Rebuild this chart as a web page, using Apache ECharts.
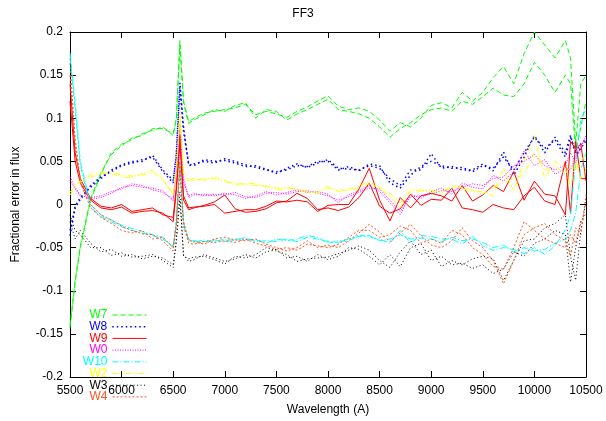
<!DOCTYPE html>
<html><head><meta charset="utf-8">
<script src="https://cdn.jsdelivr.net/npm/echarts@6/dist/echarts.min.js"></script>
<style>html,body{margin:0;padding:0;background:#fff}#c{width:606px;height:421px}</style>
</head><body><div id="c"></div>
<script>
const wl = [5500,5550,5600,5700,5800,5900,6000,6100,6200,6300,6400,6500,6530,6565,6600,6650,
 6700,6800,6900,7000,7100,7200,7300,7400,7500,
 7600,7700,7800,7900,8000,8100,8200,8300,8400,
 8500,8600,8700,8800,8900,9000,9100,9200,9300,
 9400,9500,9600,9700,9800,9900,10000,10100,10200,10300,
 10350,10400,10450,10500];

const W7a = [-0.143,-0.09,-0.05,0.005,0.035,0.06,0.07,0.075,0.082,0.086,0.09,0.08,0.1,0.19,0.12,0.096,
 0.1,0.106,0.108,0.11,0.112,0.116,0.104,0.108,0.105,
 0.101,0.108,0.113,0.12,0.126,0.114,0.11,0.112,0.108,
 0.098,0.085,0.095,0.09,0.1,0.115,0.118,0.112,0.13,
 0.12,0.13,0.147,0.16,0.14,0.175,0.2,0.185,0.17,0.19,
 0.17,0.07,0.14,0.15];
const W7b = [-0.14,-0.088,-0.048,0.007,0.037,0.058,0.068,0.077,0.08,0.088,0.088,0.082,0.098,0.185,0.118,0.094,
 0.098,0.104,0.11,0.108,0.115,0.118,0.1,0.11,0.108,
 0.098,0.105,0.11,0.116,0.122,0.11,0.108,0.105,0.1,
 0.09,0.078,0.088,0.095,0.104,0.11,0.112,0.108,0.12,
 0.116,0.125,0.135,0.127,0.125,0.14,0.165,0.15,0.13,0.15,
 0.14,0.06,0.09,0.12];
const W8a = [-0.036,-0.004,0.006,0.022,0.032,0.038,0.045,0.048,0.052,0.055,0.038,0.025,0.06,0.141,0.09,0.045,
 0.047,0.05,0.048,0.053,0.05,0.046,0.043,0.04,0.038,
 0.04,0.045,0.044,0.05,0.05,0.04,0.044,0.039,0.047,
 0.045,0.025,0.019,0.034,0.044,0.05,0.045,0.042,0.043,
 0.038,0.045,0.042,0.055,0.04,0.06,0.078,0.065,0.075,0.055,
 0.078,0.062,0.07,0.076];
const W8b = [-0.03,-0.002,0.008,0.02,0.03,0.04,0.046,0.05,0.05,0.057,0.04,0.028,0.055,0.135,0.085,0.047,
 0.045,0.052,0.05,0.051,0.048,0.044,0.045,0.041,0.036,
 0.042,0.047,0.043,0.048,0.052,0.042,0.041,0.04,0.045,
 0.042,0.03,0.022,0.04,0.04,0.059,0.042,0.044,0.04,
 0.04,0.047,0.039,0.061,0.034,0.055,0.08,0.06,0.078,0.06,
 0.08,0.058,0.065,0.074];
const W9a = [0.14,0.06,0.03,0.007,-0.002,-0.004,0.0,-0.008,-0.006,-0.004,-0.012,-0.015,0.02,0.08,0.01,-0.004,
 -0.003,-0.002,0.0,-0.01,-0.008,-0.006,-0.006,-0.002,0.004,
 0.003,0.005,0.003,-0.008,-0.001,0.0,0.0,0.018,0.042,
 0.005,-0.019,0.008,-0.004,0.01,0.013,0.01,0.004,0.022,
 0.004,0.011,0.022,0.015,0.038,0.005,0.027,0.012,0.01,-0.012,
 0.073,0.065,0.07,0.027];
const W9b = [0.12,0.05,0.025,0.005,-0.004,-0.006,-0.003,-0.01,-0.008,-0.007,-0.01,-0.02,0.015,0.07,0.005,-0.006,
 -0.004,-0.001,0.003,0.011,-0.005,-0.009,-0.008,-0.005,0.002,
 0.004,0.013,0.007,-0.006,-0.004,-0.007,-0.003,0.008,0.025,
 -0.002,-0.01,-0.005,0.012,-0.001,0.006,0.005,0.019,-0.004,
 -0.006,-0.009,0.0,-0.004,-0.006,0.01,0.02,0.004,0.0,0.05,
 -0.01,0.073,0.03,0.03];
const W0a = [0.032,0.02,0.011,0.006,0.008,0.013,0.02,0.022,0.02,0.019,0.016,0.004,0.04,0.095,0.03,0.008,
 0.011,0.012,0.01,0.013,0.011,0.007,0.01,0.015,0.011,
 0.014,0.017,0.014,0.015,0.012,0.002,0.011,0.016,0.022,
 0.015,0.002,-0.012,0.012,0.007,0.015,0.019,0.012,0.025,
 0.02,0.018,0.034,0.027,0.038,0.062,0.045,0.052,0.035,0.042,
 0.04,0.055,0.065,0.08];
const W0b = [0.028,0.018,0.01,0.008,0.01,0.015,0.018,0.024,0.022,0.017,0.014,0.006,0.035,0.088,0.025,0.01,
 0.013,0.01,0.012,0.011,0.014,0.009,0.008,0.013,0.014,
 0.012,0.015,0.016,0.013,0.01,0.005,0.009,0.014,0.019,
 0.018,0.005,-0.008,0.009,0.01,0.012,0.016,0.015,0.02,
 0.024,0.022,0.03,0.032,0.045,0.05,0.058,0.045,0.04,0.046,
 0.06,0.048,0.07,0.075];
const W10a = [0.176,0.118,0.05,0.0,-0.012,-0.018,-0.024,-0.028,-0.031,-0.035,-0.038,-0.05,-0.02,0.05,-0.02,-0.042,
 -0.042,-0.043,-0.041,-0.043,-0.04,-0.04,-0.041,-0.045,-0.04,
 -0.042,-0.04,-0.036,-0.038,-0.045,-0.042,-0.043,-0.035,-0.038,
 -0.04,-0.045,-0.03,-0.045,-0.036,-0.037,-0.04,-0.04,-0.046,
 -0.037,-0.048,-0.053,-0.05,-0.052,-0.057,-0.05,-0.058,-0.048,-0.03,
 -0.012,0.05,0.1,0.11];
const W10b = [0.17,0.11,0.045,-0.003,-0.014,-0.02,-0.026,-0.03,-0.033,-0.036,-0.04,-0.048,-0.022,0.045,-0.025,-0.04,
 -0.044,-0.041,-0.043,-0.04,-0.042,-0.038,-0.043,-0.042,-0.043,
 -0.04,-0.043,-0.038,-0.04,-0.043,-0.044,-0.04,-0.037,-0.036,
 -0.042,-0.04,-0.035,-0.04,-0.039,-0.04,-0.043,-0.038,-0.042,
 -0.04,-0.044,-0.05,-0.047,-0.055,-0.05,-0.054,-0.052,-0.045,-0.04,
 -0.03,-0.01,0.04,0.06];
const W2a = [0.011,0.02,0.028,0.034,0.037,0.036,0.032,0.031,0.036,0.04,0.03,0.011,0.04,0.105,0.04,0.027,
 0.028,0.03,0.03,0.028,0.023,0.025,0.024,0.02,0.019,
 0.02,0.017,0.013,0.015,0.021,0.015,0.018,0.021,0.027,
 0.018,0.01,-0.004,0.018,0.015,0.017,0.013,0.022,0.018,
 0.015,0.015,0.01,0.042,0.015,0.05,0.08,0.03,0.05,0.042,
 0.02,0.052,0.03,0.042];
const W2b = [0.014,0.022,0.026,0.032,0.035,0.038,0.034,0.033,0.034,0.038,0.028,0.013,0.035,0.1,0.035,0.029,
 0.03,0.028,0.032,0.026,0.025,0.023,0.022,0.022,0.017,
 0.018,0.019,0.015,0.013,0.019,0.017,0.016,0.019,0.024,
 0.02,0.013,0.002,0.015,0.017,0.014,0.016,0.019,0.02,
 0.017,0.012,0.02,0.025,0.03,0.035,0.06,0.04,0.045,0.035,
 0.045,0.04,0.05,0.06];
const W3a = [-0.012,-0.03,-0.035,-0.05,-0.05,-0.059,-0.056,-0.061,-0.06,-0.058,-0.065,-0.073,-0.04,0.015,-0.06,-0.063,
 -0.061,-0.06,-0.064,-0.069,-0.06,-0.062,-0.058,-0.05,-0.054,
 -0.058,-0.066,-0.063,-0.062,-0.061,-0.057,-0.053,-0.048,-0.053,
 -0.065,-0.073,-0.055,-0.042,-0.058,-0.053,-0.072,-0.065,-0.07,
 -0.063,-0.06,-0.063,-0.088,-0.065,-0.042,-0.04,-0.027,-0.022,-0.012,
 -0.06,-0.088,-0.03,0.004];
const W3b = [-0.02,-0.04,-0.03,-0.045,-0.055,-0.052,-0.06,-0.058,-0.063,-0.06,-0.062,-0.07,-0.045,0.005,-0.058,-0.066,
 -0.064,-0.058,-0.062,-0.066,-0.063,-0.058,-0.062,-0.055,-0.052,
 -0.062,-0.06,-0.066,-0.058,-0.064,-0.06,-0.05,-0.052,-0.06,
 -0.07,-0.058,-0.072,-0.05,-0.045,-0.065,-0.06,-0.07,-0.068,
 -0.074,-0.07,-0.08,-0.075,-0.055,-0.06,-0.045,-0.04,-0.03,-0.035,
 -0.09,-0.05,-0.02,-0.01];
const W4a = [0.164,0.076,0.03,0.0,-0.012,-0.018,-0.025,-0.03,-0.034,-0.035,-0.042,-0.054,-0.02,0.05,-0.02,-0.042,
 -0.043,-0.046,-0.04,-0.038,-0.041,-0.042,-0.04,-0.046,-0.05,
 -0.054,-0.05,-0.042,-0.05,-0.047,-0.05,-0.042,-0.033,-0.023,
 -0.032,-0.043,-0.033,-0.023,-0.036,-0.047,-0.05,-0.042,-0.027,
 -0.042,-0.05,-0.065,-0.092,-0.065,-0.035,-0.027,-0.022,-0.035,-0.042,
 -0.06,-0.027,-0.035,0.011];
const W4b = [0.15,0.07,0.025,-0.004,-0.015,-0.022,-0.03,-0.033,-0.03,-0.04,-0.038,-0.05,-0.025,0.04,-0.025,-0.045,
 -0.046,-0.043,-0.044,-0.042,-0.044,-0.04,-0.045,-0.048,-0.052,
 -0.05,-0.053,-0.046,-0.048,-0.05,-0.046,-0.038,-0.03,-0.03,
 -0.038,-0.035,-0.025,-0.03,-0.045,-0.04,-0.045,-0.03,-0.035,
 -0.05,-0.058,-0.072,-0.075,-0.05,-0.02,-0.03,-0.04,-0.045,-0.05,
 -0.035,-0.045,-0.02,-0.01];

const names = ['W7','W8','W9','W0','W10','W2','W3','W4'];
const lines = [[W7a,W7b],[W8a,W8b],[W9a,W9b],[W0a,W0b],[W10a,W10b],[W2a,W2b],[W3a,W3b],[W4a,W4b]];
const colors = ['#00ff00','#0000ff','#ff0000','#ff00ff','#00ffff','#ffff00','#000000','#ff5522'];
const dashes = [[5,3],[1.5,3],'solid',[1,1.5],[6,2,1,2],[5,2,1,2,1,2],[1,2.5],[2,2]];
const widths = [1,1.5,1,1,1,1,1,1];

const series = [];
names.forEach((n,i)=>{
  lines[i].forEach(arr=>{
    series.push({
      name:n, type:'line', symbol:'none', showSymbol:false, animation:false,
      data: wl.map((w,k)=>[w,arr[k]]),
      lineStyle:{color:colors[i], width:widths[i], type:dashes[i]},
      itemStyle:{color:colors[i]}
    });
  });
});

const font = 'Liberation Sans, Arial, sans-serif';
const legends = names.map((n,i)=>({
  data:[n], orient:'vertical', align:'right', right:459, top:309+i*11.7,
  itemWidth:34, itemHeight:10, itemGap:0, padding:0, selectedMode:false,
  itemStyle:{color:'transparent', borderWidth:0, opacity:0},
  lineStyle:{color:colors[i], width:widths[i], type:dashes[i], opacity:1},
  textStyle:{color:colors[i], fontSize:12, fontFamily:font}
}));

const axisCommon = {
  axisLine:{show:true, onZero:false, lineStyle:{color:'#000', width:1}},
  axisTick:{show:true, inside:true, length:6, lineStyle:{color:'#000'}},
  splitLine:{show:false}
};

const chart = echarts.init(document.getElementById('c'), null, {renderer:'canvas'});
chart.setOption({
  animation:false,
  backgroundColor:'#fff',
  title:{text:'FF3', left:'center', top:3, textStyle:{fontSize:12, fontWeight:'normal', color:'#000', fontFamily:font}},
  grid:{left:70, right:20, top:32, bottom:37},
  legend: legends,
  xAxis:[
    Object.assign({type:'value', min:5500, max:10500, interval:500, position:'bottom',
      name:'Wavelength (A)', nameLocation:'middle', nameGap:27,
      nameTextStyle:{fontSize:12, color:'#000', fontFamily:font},
      axisLabel:{color:'#000', fontSize:12, margin:8, fontFamily:font, formatter:v=>String(v)}}, axisCommon),
    Object.assign({type:'value', min:5500, max:10500, interval:500, position:'top',
      axisLabel:{show:false}}, axisCommon)
  ],
  yAxis:[
    Object.assign({type:'value', min:-0.2, max:0.2, interval:0.05, position:'left',
      name:'Fractional error in flux', nameLocation:'middle', nameGap:48, nameRotate:90,
      nameTextStyle:{fontSize:12, color:'#000', fontFamily:font},
      axisLabel:{color:'#000', fontSize:12, margin:7, fontFamily:font,
        formatter:v=>String(Math.round(v*100)/100)}}, axisCommon),
    Object.assign({type:'value', min:-0.2, max:0.2, interval:0.05, position:'right',
      axisLabel:{show:false}}, axisCommon)
  ],
  series: series
});
</script></body></html>
